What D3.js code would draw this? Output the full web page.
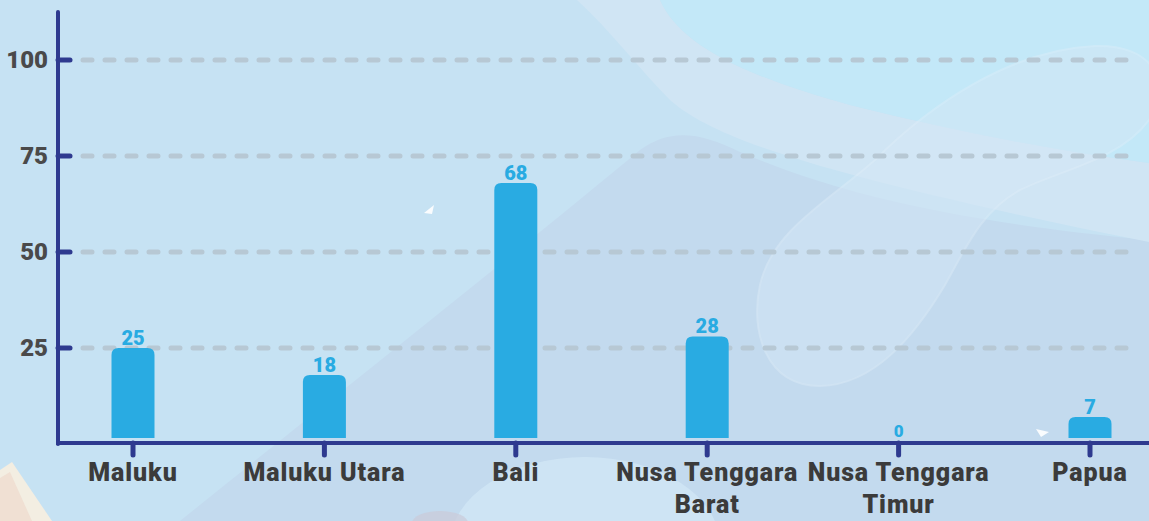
<!DOCTYPE html>
<html>
<head>
<meta charset="utf-8">
<script src="https://cdn.jsdelivr.net/npm/d3@7/dist/d3.min.js"></script>
<style>
  html, body { margin: 0; padding: 0; overflow: hidden; }
  body { width: 1149px; height: 521px; }
  svg { display: block; font-family: "Roboto", "DejaVu Sans", sans-serif; }
</style>
</head>
<body>
<svg id="chart" width="1149" height="521"></svg>
<script>
// Provinces and their counts
const categories = ["Maluku", "Maluku Utara", "Bali", "Nusa Tenggara Barat", "Nusa Tenggara Timur", "Papua"];
const labelLines = [["Maluku"], ["Maluku Utara"], ["Bali"], ["Nusa Tenggara", "Barat"], ["Nusa Tenggara", "Timur"], ["Papua"]];
const values = [25, 18, 68, 28, 0, 7];
const yTicks = [25, 50, 75, 100];

const W = 1149, H = 521;
const svg = d3.select("#chart");

// ---- background ----
svg.append("rect").attr("width", W).attr("height", H).attr("fill", "#c6e2f3");

// slightly deeper lower-right field
svg.append("path")
  .attr("d", "M180,521 C330,400 520,250 640,150 C670,128 700,132 740,152 C840,195 960,222 1149,240 L1149,521 Z")
  .attr("fill", "#c3daee");
// pale band sweeping from the top edge to the right
svg.append("path")
  .attr("d", "M577,0 C610,30 640,70 670,100 C710,135 800,172 1149,242 L1149,163 C1050,150 950,130 850,105 C730,72 678,40 660,0 Z")
  .attr("fill", "#d0e5f4");
// cyan upper-right corner
svg.append("path")
  .attr("d", "M660,0 C678,40 730,72 850,105 C950,130 1050,150 1149,163 L1149,0 Z")
  .attr("fill", "#c3e8f8");
// blob on the right
svg.append("path")
  .attr("d", "M1095,46 C1150,44 1175,80 1149,120 C1120,160 1060,170 1020,190 C980,212 965,250 945,285 C915,335 875,385 820,386 C765,386 750,330 760,285 C772,230 830,200 875,160 C930,105 1010,50 1095,46 Z")
  .attr("fill", "#d4e7f6").attr("opacity", 0.5)
  .attr("stroke", "#e2f0fa").attr("stroke-width", 2).attr("stroke-opacity", 0.7);
// pale round shape at the bottom
svg.append("ellipse")
  .attr("cx", 585).attr("cy", 545).attr("rx", 135).attr("ry", 88)
  .attr("fill", "#d3e8f7").attr("opacity", 0.7);
svg.append("ellipse")
  .attr("cx", 440).attr("cy", 523).attr("rx", 28).attr("ry", 12)
  .attr("fill", "#cacbd8").attr("opacity", 0.7);
// corner decoration bottom-left
svg.append("path")
  .attr("d", "M0,470 L12,462 L52,521 L0,521 Z")
  .attr("fill", "#f6eee0").attr("opacity", 0.95);
svg.append("path")
  .attr("d", "M0,478 L10,472 L32,521 L0,521 Z")
  .attr("fill", "#efdcd0").attr("opacity", 0.8);
// small white pointers
svg.append("path").attr("d", "M424,213 L434,205 L432,214 Z").attr("fill", "#ffffff").attr("opacity", 0.9);
svg.append("path").attr("d", "M1036,429 L1049,432 L1041,437 Z").attr("fill", "#ffffff").attr("opacity", 0.9);

// ---- scales ----
const x = d3.scalePoint().domain(categories).range([133, 1090]);
const y = d3.scaleLinear().domain([0, 100]).range([444, 60]);

const axisColor = "#2e3a8f";
const barColor = "#29abe2";
const barW = 43;
const barBase = 438;

// gridlines
svg.append("g").selectAll("line").data(yTicks).join("line")
  .attr("x1", 83).attr("x2", 1132)
  .attr("y1", d => y(d)).attr("y2", d => y(d))
  .attr("stroke", "#b7c8d4").attr("stroke-width", 5)
  .attr("stroke-linecap", "round")
  .attr("stroke-dasharray", "9 13");

// bars with rounded tops
function barPath(cx, top, w, bottom, r) {
  const h = bottom - top;
  r = Math.min(r, h, w / 2);
  const x0 = cx - w / 2, x1 = cx + w / 2;
  return `M${x0},${bottom} L${x0},${top + r} Q${x0},${top} ${x0 + r},${top} L${x1 - r},${top} Q${x1},${top} ${x1},${top + r} L${x1},${bottom} Z`;
}
const rows = values.map((v, i) => ({ v, c: categories[i] }));
svg.append("g").selectAll("path").data(rows.filter(d => d.v > 0))
  .join("path")
  .attr("d", d => barPath(x(d.c), y(d.v), barW, barBase, 7))
  .attr("fill", barColor);

// value labels
svg.append("g").selectAll("text").data(rows)
  .join("text")
  .attr("x", d => x(d.c))
  .attr("y", d => d.v > 0 ? y(d.v) - 3 : barBase - 1)
  .attr("text-anchor", "middle")
  .attr("fill", barColor)
  .attr("font-weight", 900)
  .attr("font-size", d => d.v > 0 ? 20 : 17)
  .text(d => d.v);

// y axis
const yAxis = svg.append("g");
yAxis.append("line")
  .attr("x1", 58).attr("x2", 58).attr("y1", 12).attr("y2", 444)
  .attr("stroke", axisColor).attr("stroke-width", 4).attr("stroke-linecap", "round");
yAxis.selectAll(".tk").data(yTicks).join("line")
  .attr("x1", 58).attr("x2", 70)
  .attr("y1", d => y(d)).attr("y2", d => y(d))
  .attr("stroke", axisColor).attr("stroke-width", 5).attr("stroke-linecap", "round");
yAxis.selectAll("text").data(yTicks).join("text")
  .attr("x", 48).attr("y", d => y(d) + 8)
  .attr("text-anchor", "end")
  .attr("fill", "#4a4a4a").attr("font-weight", 900).attr("font-size", 24)
  .text(d => d);

// x axis
const xAxis = svg.append("g");
xAxis.append("line")
  .attr("x1", 56).attr("x2", W).attr("y1", 443).attr("y2", 443)
  .attr("stroke", axisColor).attr("stroke-width", 4);
xAxis.selectAll(".tk").data(categories).join("line")
  .attr("x1", d => x(d)).attr("x2", d => x(d))
  .attr("y1", 443).attr("y2", 455)
  .attr("stroke", axisColor).attr("stroke-width", 5).attr("stroke-linecap", "round");
const lbl = xAxis.selectAll("text").data(categories).join("text")
  .attr("x", d => x(d)).attr("y", 481)
  .attr("text-anchor", "middle")
  .attr("fill", "#3b3b3b").attr("font-weight", 900).attr("font-size", 25)
  .attr("letter-spacing", 0.9);
lbl.each(function (d, i) {
  const t = d3.select(this);
  labelLines[i].forEach((line, k) => {
    t.append("tspan").attr("x", x(d)).attr("dy", k === 0 ? 0 : 32).text(line);
  });
});
</script>
</body>
</html>
